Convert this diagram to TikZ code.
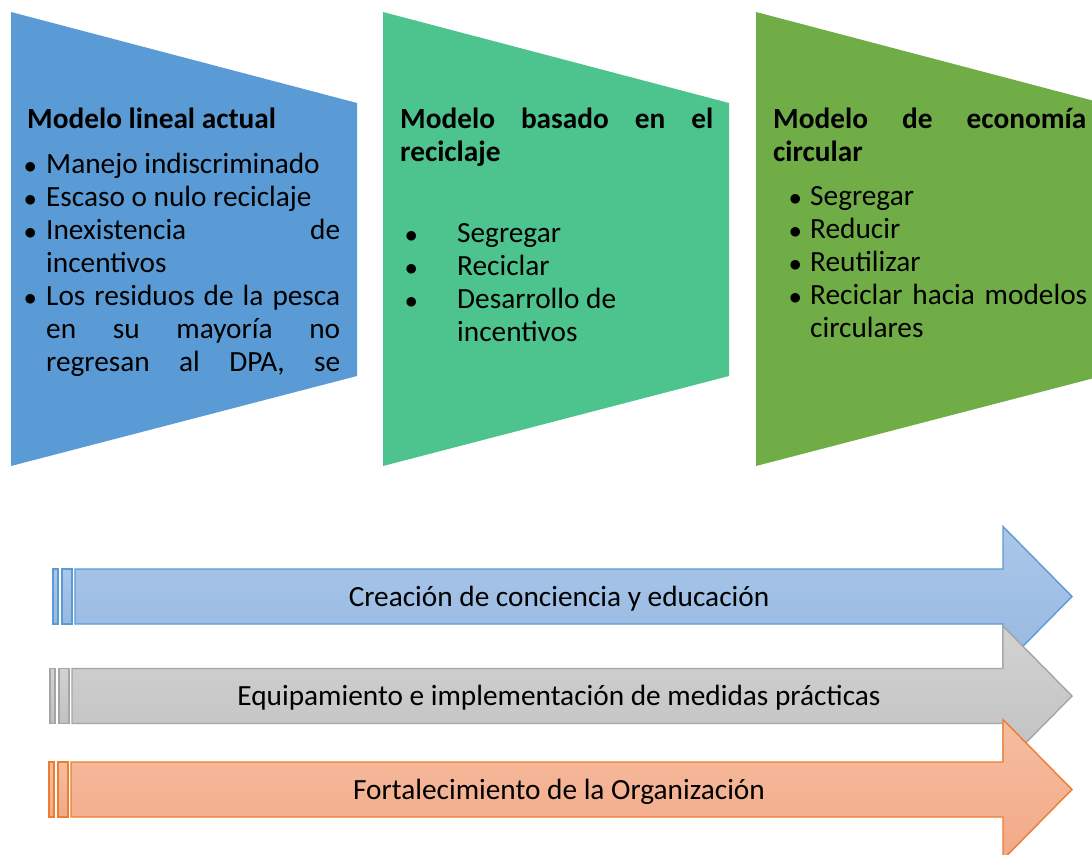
\documentclass[tikz,border=0pt]{standalone}
\usepackage{fontspec}
\setmainfont{Carlito}
\definecolor{modelblue}{HTML}{5B9BD5}
\definecolor{modelgreen}{HTML}{4DC38E}
\definecolor{modelolive}{HTML}{70AD47}
\definecolor{bandblueA}{HTML}{AAC7E9}
\definecolor{bandblueB}{HTML}{97B8E1}
\definecolor{bandgreyA}{HTML}{D2D2D2}
\definecolor{bandgreyB}{HTML}{C1C1C1}
\definecolor{bandgreyL}{HTML}{A5A5A5}
\definecolor{bandorangeA}{HTML}{F6BDA1}
\definecolor{bandorangeB}{HTML}{F2A987}
\definecolor{bandorangeL}{HTML}{ED7D31}
\newcommand{\bul}[2]{\makebox[#1][l]{\hspace*{#2}$\bullet$}}
\newcommand{\jline}[2]{\makebox[#1][s]{#2}}

\begin{document}
\begin{tikzpicture}[x=1pt,y=-1pt,
  modeltext/.style={anchor=north west,inner sep=0pt,align=left,font=\fontsize{29.3}{33}\selectfont},
  bandtext/.style={inner sep=0pt,font=\fontsize{29.3}{33}\selectfont}]
  \useasboundingbox (0,0) rectangle (1092,854);
  \clip (0,0) rectangle (1092,854);
  % the three models
  \foreach \x/\col in {11/modelblue,383/modelgreen,756/modelolive}
    \fill[\col] (\x,12) -- (\x+346,103) -- (\x+346,376) -- (\x,466) -- cycle;
  \node[modeltext] (lineal) at (27,105) {\strut\textbf{Modelo lineal actual}\\[12pt]
    \bul{19pt}{-3pt}Manejo indiscriminado\\
    \bul{19pt}{-3pt}Escaso o nulo reciclaje\\
    \bul{19pt}{-3pt}\jline{294pt}{Inexistencia de}\\
    \hspace*{19pt}incentivos\\
    \bul{19pt}{-3pt}\jline{294pt}{Los residuos de la pesca}\\
    \hspace*{19pt}\jline{294pt}{en su mayoría no}\\
    \hspace*{19pt}\jline{294pt}{regresan al DPA, se}};
  \node[modeltext] (reciclaje) at (400,105) {\strut\textbf{\jline{313pt}{Modelo basado en el}}\\
    \textbf{reciclaje}\\[48pt]
    \bul{57pt}{5pt}Segregar\\
    \bul{57pt}{5pt}Reciclar\\
    \bul{57pt}{5pt}Desarrollo de\\
    \hspace*{57pt}incentivos};
  \node[modeltext] (circular) at (773,105) {\strut\textbf{\jline{313pt}{Modelo de economía}}\\
    \textbf{circular}\\[11pt]
    \bul{37pt}{16pt}Segregar\\
    \bul{37pt}{16pt}Reducir\\
    \bul{37pt}{16pt}Reutilizar\\
    \bul{37pt}{16pt}\jline{277pt}{Reciclar hacia modelos}\\
    \hspace*{37pt}circulares};
  % the three bands
  \foreach \ym/\xa/\ft/\fb/\dc/\nm/\txt in {
      596.5/53/bandblueA/bandblueB/modelblue/conciencia/Creación de conciencia y educación,
      696/50/bandgreyA/bandgreyB/bandgreyL/equipamiento/Equipamiento e implementación de medidas prácticas,
      789.5/49/bandorangeA/bandorangeB/bandorangeL/organizacion/Fortalecimiento de la Organización}{
    \path[draw=\dc,line width=1.4pt,top color=\ft,bottom color=\fb]
      (\xa,\ym-27.5) rectangle (\xa+5,\ym+27.5);
    \path[draw=\dc,line width=1.4pt,top color=\ft,bottom color=\fb]
      (\xa+9,\ym-27.5) rectangle (\xa+19,\ym+27.5);
    \path[draw=\dc,line width=1.4pt,top color=\ft,bottom color=\fb,line join=miter]
      (\xa+22,\ym-27.5) -- (1003,\ym-27.5) -- (1003,\ym-70) -- (1072,\ym)
      -- (1003,\ym+70) -- (1003,\ym+27.5) -- (\xa+22,\ym+27.5) -- cycle;
    \node[bandtext] (\nm) at (559,\ym+2) {\txt};
  }
\end{tikzpicture}
\end{document}
